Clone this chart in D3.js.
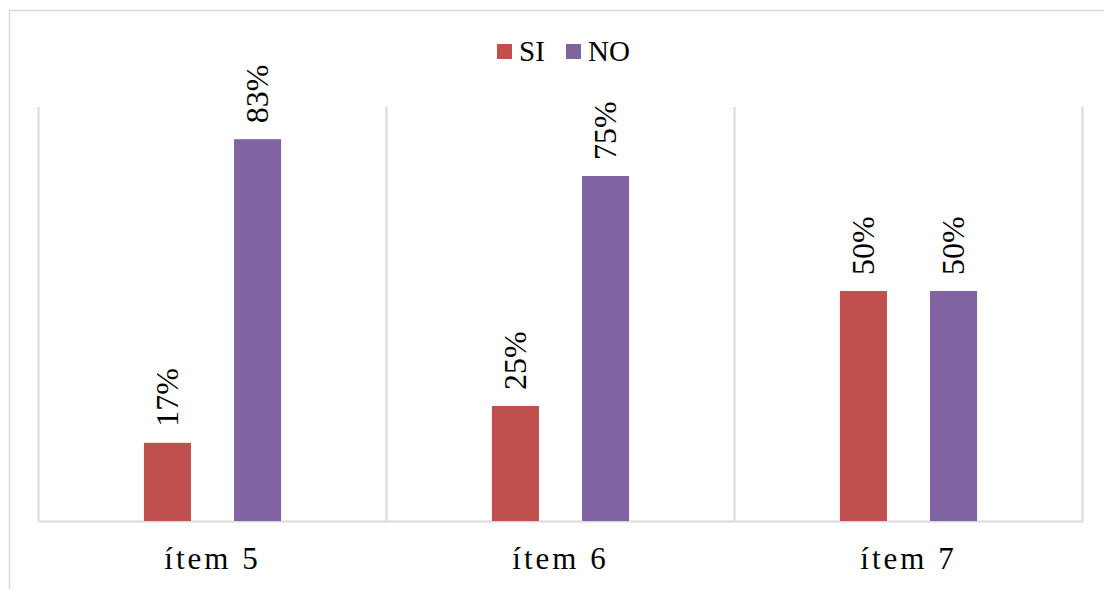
<!DOCTYPE html>
<html>
<head>
<meta charset="utf-8">
<script src="https://cdn.jsdelivr.net/npm/d3@7"></script>
<style>
  html, body { margin: 0; padding: 0; background: #fff; }
  svg { display: block; }
</style>
</head>
<body>
<svg id="chart" width="1104" height="589"></svg>
<script>
// Chart data
const categories = ["ítem 5", "ítem 6", "ítem 7"];
const seriesNames = ["SI", "NO"];
const siValues = [0.17, 0.25, 0.50];
const noValues = [0.83, 0.75, 0.50];
const seriesColors = ["#C0504D", "#8064A2"];

const FONT = "'Liberation Serif', 'Times New Roman', Times, serif";

const svg = d3.select("#chart");
const W = 1104, H = 589;

// Outer chart frame
svg.append("rect")
  .attr("x", 9.5).attr("y", 10.5)
  .attr("width", W + 20).attr("height", H + 20)
  .attr("fill", "#fff")
  .attr("stroke", "#d9d9d9").attr("stroke-width", 1.5);

const plot = { left: 38.5, right: 1082.5, top: 107, bottom: 521 };

const x0 = d3.scaleBand()
  .domain(categories)
  .range([plot.left, plot.right])
  .padding(0);

const x1 = d3.scaleBand()
  .domain(seriesNames)
  .range([0, x0.bandwidth()])
  .paddingInner(0.478)
  .paddingOuter(1.17);

const y = d3.scaleLinear()
  .domain([0, 0.9])
  .range([plot.bottom, plot.top]);

const rows = categories.map((c, i) => ({
  category: c,
  values: [
    { series: "SI", value: siValues[i], color: seriesColors[0] },
    { series: "NO", value: noValues[i], color: seriesColors[1] }
  ]
}));

// Vertical separators between categories
const seps = categories.map(c => x0(c)).concat([x0.range()[1]]);
svg.append("g")
  .selectAll("line")
  .data(seps)
  .join("line")
  .attr("x1", d => d).attr("x2", d => d)
  .attr("y1", plot.top).attr("y2", plot.bottom)
  .attr("stroke", "#d9d9d9").attr("stroke-width", 2);

// Category axis
const xAxis = svg.append("g")
  .attr("transform", `translate(0,${plot.bottom})`)
  .call(d3.axisBottom(x0).tickSize(0).tickPadding(48));
xAxis.attr("font-family", null).attr("font-size", null);
xAxis.select(".domain").attr("stroke", "#d9d9d9").attr("stroke-width", 2);
xAxis.selectAll(".tick text")
  .style("font-family", FONT)
  .style("font-size", "31px")
  .style("letter-spacing", "3px")
  .attr("dy", 0)
  .attr("fill", "#000");

// Bars
const groups = svg.append("g")
  .selectAll("g")
  .data(rows)
  .join("g")
  .attr("transform", d => `translate(${x0(d.category)},0)`);

groups.selectAll("rect")
  .data(d => d.values)
  .join("rect")
  .attr("x", d => x1(d.series))
  .attr("width", x1.bandwidth())
  .attr("y", d => y(d.value))
  .attr("height", d => y(0) - y(d.value))
  .attr("fill", d => d.color);

// Rotated value labels
groups.selectAll("text.val")
  .data(d => d.values)
  .join("text")
  .attr("class", "val")
  .attr("transform", d => `translate(${x1(d.series) + x1.bandwidth() / 2},${y(d.value) - 16}) rotate(-90)`)
  .attr("dy", "0.34em")
  .style("font-family", FONT)
  .style("font-size", "32px")
  .attr("text-anchor", "start")
  .attr("fill", "#000")
  .text(d => Math.round(d.value * 100) + "%");

// Legend
const legend = svg.append("g");
const legendItems = [
  { name: seriesNames[0], color: seriesColors[0], x: 497 },
  { name: seriesNames[1], color: seriesColors[1], x: 566 }
];
legendItems.forEach(it => {
  legend.append("rect")
    .attr("x", it.x).attr("y", 44)
    .attr("width", 15).attr("height", 15)
    .attr("fill", it.color);
  legend.append("text")
    .attr("x", it.x + 22).attr("y", 61)
    .style("font-family", FONT)
    .style("font-size", "29px")
    .attr("fill", "#000")
    .text(it.name);
});
</script>
</body>
</html>
